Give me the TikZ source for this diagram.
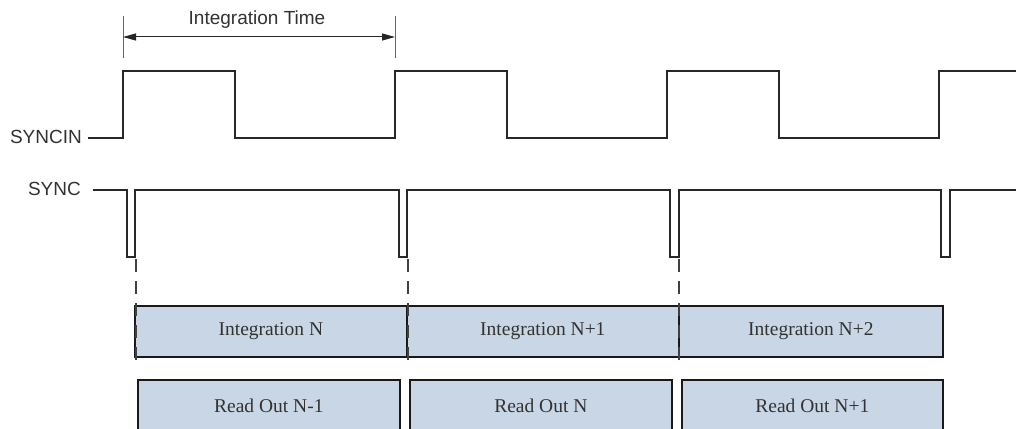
\documentclass[tikz,border=0pt]{standalone}
\usepackage{fontspec}
\newfontfamily\arialf{Liberation Sans}
\newfontfamily\timesf{Liberation Serif}
\usetikzlibrary{arrows.meta}
\definecolor{boxfill}{RGB}{201,214,229}
\definecolor{wave}{RGB}{40,40,40}
\definecolor{txt}{RGB}{50,50,50}
\tikzset{
  wavefm/.style={draw=wave, line width=1.9pt, line join=miter},
  sigl/.style={font=\arialf\fontsize{19}{21}\selectfont, text=txt, inner sep=0pt},
  tbox/.style={draw=black!90, line width=1.7pt, fill=boxfill, anchor=north west,
    minimum height=51pt, inner sep=0pt, font=\timesf\fontsize{19.5}{21}\selectfont, text=txt},
  guide/.style={draw=black!75, line width=1.2pt, dash pattern=on 13pt off 9pt},
  tickl/.style={draw=black!60, line width=0.9pt},
}
\begin{document}
\begin{tikzpicture}[x=1pt,y=-1pt]
\useasboundingbox (0,0) rectangle (1016,428);
\clip (0,0) rectangle (1016,428);
% labels
\node[sigl, anchor=east] (syncin) at (82,137) {SYNCIN};
\node[sigl, anchor=east] (sync) at (81,189) {SYNC};
\node[sigl] (itime) at (257,20) {Integration Time};
% integration time marker
\coordinate (tl) at (123,37);
\coordinate (tr) at (395,37);
\draw[tickl] (123,16) -- (123,58);
\draw[tickl] (395,16) -- (395,58);
\draw[line width=1pt, draw=black!85, {Triangle[length=13pt,width=7pt]}-{Triangle[length=13pt,width=7pt]}] (tl) -- (tr);
% SYNCIN waveform
\draw[wavefm] (syncin.east)++(6,1) -- (123,138) -- (123,71) -- (235,71) -- (235,138) -- (395,138)
  -- (395,71) -- (507,71) -- (507,138) -- (667,138) -- (667,71) -- (779,71) -- (779,138)
  -- (939,138) -- (939,71) -- (1025,71);
% SYNC waveform
\draw[wavefm] (sync.east)++(12,1) -- (127,190) -- (127,257) -- (135,257) -- (135,190)
  -- (399,190) -- (399,257) -- (407,257) -- (407,190)
  -- (670,190) -- (670,257) -- (679,257) -- (679,190)
  -- (941,190) -- (941,257) -- (950,257) -- (950,190) -- (1025,190);
% integration boxes
\node[tbox, minimum width=272pt] (i1) at (134,305) {Integration N};
\node[tbox, minimum width=272pt] (i2) at (406,305) {Integration N+1};
\node[tbox, minimum width=264pt] (i3) at (678,305) {Integration N+2};
% read out boxes
\node[tbox, minimum width=262pt] (r1) at (137,379) {Read Out N-1};
\node[tbox, minimum width=262pt] (r2) at (409,379) {Read Out N};
\node[tbox, minimum width=261pt] (r3) at (681,379) {Read Out N+1};
% guides
\draw[guide] (136,259) -- (136,366);
\draw[guide] (408,259) -- (408,366);
\draw[guide] (679,259) -- (679,366);
\end{tikzpicture}
\end{document}
